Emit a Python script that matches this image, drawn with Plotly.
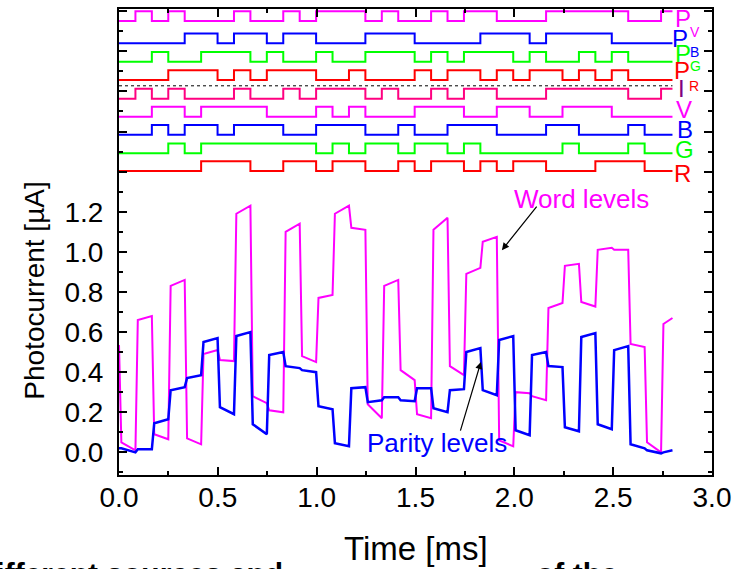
import plotly.graph_objects as go

# ---------------- data ----------------
slot_ms = 0.0831          # bit slot duration [ms]
t_end = 2.80              # end of recorded sequence [ms]

# digital input sequences (one value per slot)
bits_R  = [0,0,0,0,0,1,1,1,0,0,1,1,0,1,1,0,0,1,0,1,1,0,1,0,1,1,0,0,0,1,1,1,0,0]
bits_G  = [0,0,0,1,0,1,1,1,1,1,1,1,0,1,0,1,1,0,1,1,0,1,0,0,0,0,0,1,0,0,0,1,0,0]
bits_B  = [0,0,1,0,1,1,0,1,1,1,0,0,1,1,1,0,0,1,0,0,1,1,1,0,0,0,1,1,0,0,0,1,0,0]
bits_V  = [0,0,1,1,0,1,1,1,1,0,0,0,1,0,1,0,0,0,1,1,1,0,0,1,1,0,0,1,1,1,0,0,0,0]
bits_I  = [0,1,0,1,0,0,0,1,0,0,1,0,1,1,1,0,1,0,0,1,0,1,1,0,0,0,1,1,1,1,1,0,0,1]
bits_PR = [0,0,0,1,1,1,0,1,0,1,1,1,0,0,1,0,0,0,1,0,1,1,0,1,0,1,1,0,1,0,1,0,0,0]
bits_PG = [0,0,1,0,0,1,1,1,0,1,0,0,1,0,0,1,1,1,0,1,0,1,1,1,0,1,0,0,1,0,1,0,0,0]
bits_PB = [0,0,0,0,1,1,0,1,1,0,1,1,0,0,0,1,1,1,0,0,0,0,1,1,1,0,1,1,1,1,0,0,0,0]
bits_PV = [0,1,0,1,0,0,0,1,0,0,1,0,1,1,1,0,1,0,0,1,0,1,1,0,0,0,1,1,1,1,1,0,0,1]

# measured photocurrent [uA]: level just after each transition, and at end of slot
word_initial = 0.535
word_start = [0.05, 0.66, 0.09, 0.83, 0.07, 0.49, 0.46, 1.19, 0.28, 0.21, 1.10, 0.48,
              0.77, 1.19, 1.12, 0.24, 0.83, 0.41, 0.19, 1.11, 0.43, 0.89, 1.05, 0.06,
              0.30, 0.28, 0.72, 0.93, 0.75, 1.01, 1.01, 0.54, 0.05, 0.64]
word_end   = [0.01, 0.68, 0.065, 0.86, 0.04, 0.51, 0.455, 1.23, 0.245, 0.20, 1.14, 0.45,
              0.785, 1.23, 1.11, 0.17, 0.86, 0.36, 0.17, 1.17, 0.385, 0.92, 1.075, 0.03,
              0.295, 0.26, 0.745, 0.94, 0.727, 1.02, 1.01, 0.525, 0.0, 0.67]
parity_initial = 0.02
parity_start = [0.02, 0.015, 0.145, 0.31, 0.37, 0.55, 0.225, 0.58, 0.14, 0.485, 0.43, 0.41,
                0.23, 0.045, 0.32, 0.25, 0.275, 0.26, 0.32, 0.22, 0.31, 0.50, 0.31, 0.56,
                0.11, 0.485, 0.43, 0.125, 0.575, 0.14, 0.51, 0.04, 0.01, 0.0]
parity_end   = [0.0, 0.015, 0.165, 0.325, 0.385, 0.57, 0.19, 0.60, 0.09, 0.50, 0.42, 0.40,
                0.215, 0.03, 0.325, 0.26, 0.275, 0.255, 0.32, 0.20, 0.315, 0.52, 0.285, 0.58,
                0.085, 0.50, 0.425, 0.105, 0.595, 0.115, 0.53, 0.02, -0.005, 0.01]

x_ticks = [0.0, 0.5, 1.0, 1.5, 2.0, 2.5, 3.0]
y_tick_vals = [0.0, 0.2, 0.4, 0.6, 0.8, 1.0, 1.2, 1.4, 1.6, 1.8, 2.0, 2.2]
y_tick_text = ["0.0", "0.2", "0.4", "0.6", "0.8", "1.0", "1.2", "", "", "", "", ""]

# ---------------- styling / placement ----------------
FONT = "Liberation Sans, Arial, Helvetica, sans-serif"
MAG, BLU, GRN, RED, PINK, PURP = "#FF00FF", "#0000FF", "#00FF00", "#FF0000", "#FF0080", "#800080"

digital = [  # name, bits, baseline offset, colour
    ("R", bits_R, 1.403, RED),
    ("G", bits_G, 1.491, GRN),
    ("B", bits_B, 1.584, BLU),
    ("V", bits_V, 1.674, MAG),
    ("I", bits_I, 1.764, PINK),
    ("PR", bits_PR, 1.857, RED),
    ("PG", bits_PG, 1.948, GRN),
    ("PB", bits_PB, 2.040, BLU),
    ("PV", bits_PV, 2.151, MAG),
]
amp = 0.049
dotted_y = 1.828
rise = 0.012

fig = go.Figure()

for name, bits, base, col in digital:
    xs = [k * slot_ms for k in range(len(bits))] + [t_end]
    ys = [base + amp * b for b in bits] + [base + amp * bits[-1]]
    fig.add_trace(go.Scatter(x=xs, y=ys, mode="lines", line=dict(color=col, width=2, shape="hv"),
                             showlegend=False, hoverinfo="skip"))

fig.add_trace(go.Scatter(x=[0, t_end], y=[dotted_y, dotted_y], mode="lines",
                         line=dict(color="black", width=1, dash="dot"), showlegend=False))


def analog(initial, start, end):
    xs, ys = [0.0], [initial]
    for k, (s, e) in enumerate(zip(start, end)):
        t0 = k * slot_ms
        t1 = min((k + 1) * slot_ms, t_end)
        xs += [t0 + rise, t1]
        ys += [s, e]
    return xs, ys


wx, wy = analog(word_initial, word_start, word_end)
px_, py_ = analog(parity_initial, parity_start, parity_end)
fig.add_trace(go.Scatter(x=wx, y=wy, mode="lines", line=dict(color=MAG, width=2, simplify=False),
                         name="Word levels", showlegend=False))
fig.add_trace(go.Scatter(x=px_, y=py_, mode="lines", line=dict(color=BLU, width=2.5, simplify=False),
                         name="Parity levels", showlegend=False))

ann = []
# channel labels: text, colour, size, x, y
labels = [
    ("P", MAG, 24, 2.853, 2.165), ("V", MAG, 14, 2.915, 2.095),
    ("P", BLU, 24, 2.838, 2.065), ("B", BLU, 14, 2.910, 1.995),
    ("P", GRN, 24, 2.853, 1.990), ("G", GRN, 14, 2.918, 1.925),
    ("P", RED, 24, 2.848, 1.905), ("R", RED, 14, 2.908, 1.825),
    ("I", PURP, 24, 2.848, 1.815),
    ("V", MAG, 24, 2.858, 1.710),
    ("B", BLU, 24, 2.863, 1.610),
    ("G", GRN, 24, 2.863, 1.512),
    ("R", RED, 24, 2.853, 1.392),
]
for txt, col, sz, x, y in labels:
    ann.append(dict(x=x, y=y, xref="x", yref="y", text=txt, showarrow=False,
                    font=dict(family=FONT, size=sz, color=col), xanchor="center", yanchor="middle"))

ann.append(dict(x=2.342, y=1.263, xref="x", yref="y", text="Word levels", showarrow=False,
                font=dict(family=FONT, size=26, color=MAG)))
ann.append(dict(x=1.611, y=0.049, xref="x", yref="y", text="Parity levels", showarrow=False,
                font=dict(family=FONT, size=26, color=BLU)))
ann.append(dict(x=1.937, y=1.008, ax=2.119, ay=1.233, xref="x", yref="y", axref="x", ayref="y",
                text="", showarrow=True, arrowhead=2, arrowsize=1.2, arrowwidth=1.2, arrowcolor="black"))
ann.append(dict(x=1.831, y=0.451, ax=1.725, ay=0.101, xref="x", yref="y", axref="x", ayref="y",
                text="", showarrow=True, arrowhead=2, arrowsize=1.2, arrowwidth=1.2, arrowcolor="black"))

# axis titles
ann.append(dict(x=-0.142, y=0.395, xref="paper", yref="paper", xanchor="center", yanchor="middle",
                text="Photocurrent [µA]", textangle=-90, showarrow=False,
                font=dict(family=FONT, size=28, color="black")))
ann.append(dict(x=0.5, y=-0.157, xref="paper", yref="paper", xanchor="center", yanchor="middle",
                text="Time [ms]", showarrow=False, font=dict(family=FONT, size=33, color="black")))
# clipped caption line of the source page (only the top of the letters is visible)
caption_parts = [("<b>different sources and</b>", -0.241), ("<b>of the</b>", 0.700)]
for txt, x in caption_parts:
    ann.append(dict(x=x, y=-0.172, xref="paper", yref="paper", xanchor="left", yanchor="top",
                    text=txt, showarrow=False, font=dict(family=FONT, size=30, color="black")))

axis_common = dict(showline=True, linecolor="black", linewidth=2, mirror="ticks", ticks="inside",
                   tickcolor="black", tickwidth=1.5, ticklen=8, showgrid=False, zeroline=False,
                   tickfont=dict(family=FONT, size=28, color="black"))

fig.update_layout(
    width=746, height=569,
    margin=dict(l=119, r=34, t=9, b=94, autoexpand=False),
    paper_bgcolor="white", plot_bgcolor="white",
    xaxis=dict(range=[0, 3.0], tickmode="array", tickvals=x_ticks,
               ticktext=[f"{v:.1f}" for v in x_ticks], ticklabelstandoff=-4, automargin=False,
               minor=dict(ticks="inside", ticklen=4, tickwidth=1.5, tickcolor="black", dtick=0.25, tick0=0),
               **axis_common),
    yaxis=dict(range=[-0.113, 2.211], tickmode="array", tickvals=y_tick_vals, ticktext=y_tick_text,
               ticklabelstandoff=8, automargin=False,
               minor=dict(ticks="inside", ticklen=4, tickwidth=1.5, tickcolor="black", dtick=0.1, tick0=0),
               **axis_common),
    annotations=ann,
    showlegend=False,
)

fig.write_html("out.html", config={"displayModeBar": False},
               post_script="document.body.style.margin='0';")
